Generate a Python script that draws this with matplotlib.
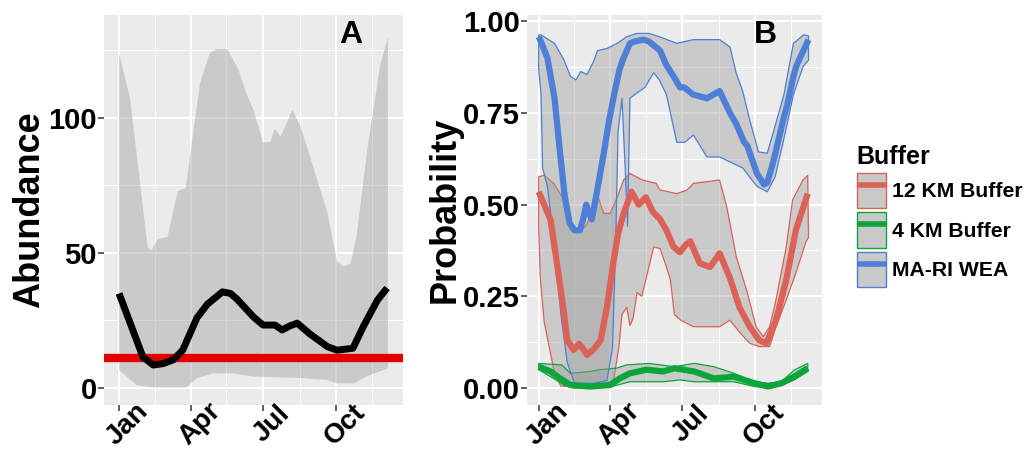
import numpy as np
import matplotlib
matplotlib.use("Agg")
import matplotlib.pyplot as plt
from matplotlib.patches import Patch
from matplotlib.lines import Line2D
from matplotlib.transforms import ScaledTranslation

plt.rcParams['font.family'] = ['Liberation Sans', 'DejaVu Sans']
plt.rcParams['font.weight'] = 'bold'

# x = day of year
month_ticks = [1, 91, 182, 274]
month_labels = ["Jan", "Apr", "Jul", "Oct"]
month_minor = [46, 136, 228, 319]

# ---- Panel A: abundance ----
a_up_day = [1, 15, 27, 37, 42, 49, 62, 75, 85, 93, 103, 115, 124, 137, 151, 161, 170,
            182, 191, 197, 204, 219, 229, 245, 263, 275, 283, 292, 300, 313, 329, 339]
a_up = [124, 107, 77, 52, 51, 55, 56, 73, 74, 92, 113, 124, 125.5, 125.5, 118, 109, 103,
        91, 91, 96, 93, 103, 97, 82, 65, 47, 45, 46, 57, 88, 119, 130]
a_lo_day = [1, 23, 41, 86, 99, 120, 145, 170, 229, 262, 275, 296, 312, 339]
a_lo = [6.7, 1.1, 0.2, 0.2, 3.6, 5.4, 5.4, 4.2, 3.7, 3.0, 1.7, 1.7, 4.2, 7.3]
a_mean_day = [1, 31, 44, 56, 69, 81, 99, 112, 131, 141, 149, 170, 182, 197, 206, 216,
              225, 241, 263, 275, 295, 308, 326, 338]
a_mean = [35, 11.5, 8.5, 9, 10.4, 14, 26, 31, 35.6, 35, 33, 26.3, 23.3, 23.3, 21.5, 23,
          24, 20, 15.3, 14, 14.7, 22.7, 32.6, 37]
a_threshold = 11

# ---- Panel B: probability by buffer ----
buffers = ["12 KM Buffer", "4 KM Buffer", "MA-RI WEA"]
colors = ["#DC6157", "#0BA53A", "#4D7FD6"]

red_day = [1, 8, 16, 24, 33, 37, 45, 52, 56, 62, 70, 79, 87, 95, 101, 108, 118, 127, 136,
           145, 154, 162, 171, 179, 186, 192, 204, 217, 229, 242, 254, 267, 279, 288, 300,
           313, 325, 340]
red_mean = [0.535, 0.50, 0.458, 0.34, 0.204, 0.13, 0.104, 0.12, 0.11, 0.09, 0.105, 0.13,
            0.22, 0.34, 0.42, 0.476, 0.535, 0.50, 0.52, 0.48, 0.46, 0.43, 0.385, 0.37, 0.39,
            0.40, 0.34, 0.33, 0.367, 0.30, 0.22, 0.167, 0.13, 0.122, 0.185, 0.295, 0.43, 0.53]
red_up_day = [1, 8, 20, 33, 41, 45, 53, 60, 70, 76, 83, 91, 100, 108, 116, 132, 149, 154,
              175, 188, 196, 229, 238, 250, 263, 275, 284, 292, 300, 313, 321, 334, 340]
red_up = [0.576, 0.58, 0.558, 0.513, 0.44, 0.43, 0.43, 0.44, 0.485, 0.52, 0.476, 0.476,
          0.52, 0.567, 0.585, 0.567, 0.558, 0.54, 0.53, 0.54, 0.558, 0.567, 0.494, 0.358,
          0.267, 0.167, 0.14, 0.167, 0.24, 0.385, 0.513, 0.567, 0.58]
red_lo_day = [1, 3, 8, 21, 29, 60, 94, 102, 106, 112, 116, 120, 125, 131, 146, 154, 162,
              167, 172, 180, 196, 229, 242, 255, 267, 279, 292, 300, 313, 325, 338, 341]
red_lo = [0.44, 0.30, 0.18, 0.04, 0.005, 0.002, 0.004, 0.11, 0.20, 0.22, 0.17, 0.19, 0.26,
          0.25, 0.385, 0.38, 0.33, 0.295, 0.20, 0.185, 0.167, 0.167, 0.185, 0.15, 0.122,
          0.113, 0.113, 0.167, 0.24, 0.313, 0.40, 0.41]

green_day = [1, 16, 28, 41, 66, 91, 103, 116, 137, 158, 172, 197, 222, 247, 273, 290, 307,
             323, 340]
green_mean = [0.058, 0.045, 0.026, 0.008, 0.004, 0.008, 0.026, 0.04, 0.05, 0.045, 0.054,
              0.045, 0.026, 0.031, 0.013, 0.004, 0.013, 0.031, 0.054]
green_up_day = [1, 30, 41, 66, 78, 99, 112, 140, 172, 197, 222, 247, 273, 290, 307, 323, 340]
green_up = [0.067, 0.063, 0.04, 0.045, 0.05, 0.054, 0.063, 0.067, 0.058, 0.067, 0.058, 0.04,
            0.017, 0.013, 0.017, 0.049, 0.067]
green_lo_day = [1, 16, 33, 45, 91, 116, 158, 179, 197, 222, 247, 273, 290, 307, 323, 340]
green_lo = [0.05, 0.031, 0.008, 0.0, 0.003, 0.017, 0.017, 0.022, 0.017, 0.017, 0.017, 0.004,
            0.0, 0.008, 0.022, 0.045]

blue_day = [1, 4, 12, 21, 28, 34, 40, 46, 53, 57, 61, 64, 68, 74, 83, 89, 96, 103, 108, 116,
            122, 133, 140, 154, 162, 171, 179, 184, 196, 213, 229, 242, 250, 260, 264, 276,
            285, 289, 297, 309, 314, 322, 326, 341]
blue_mean = [0.958, 0.944, 0.90, 0.79, 0.64, 0.52, 0.45, 0.43, 0.43, 0.46, 0.50, 0.48, 0.46,
             0.53, 0.64, 0.72, 0.80, 0.87, 0.90, 0.94, 0.945, 0.95, 0.945, 0.92, 0.88, 0.85,
             0.82, 0.82, 0.80, 0.79, 0.81, 0.75, 0.72, 0.67, 0.66, 0.585, 0.555, 0.56, 0.62,
             0.73, 0.77, 0.85, 0.88, 0.95]
blue_up_day = [1, 4, 21, 33, 41, 48, 54, 62, 71, 75, 87, 100, 112, 125, 140, 153, 175, 196,
               229, 242, 250, 258, 267, 278, 289, 297, 310, 322, 335, 341]
blue_up = [0.963, 0.963, 0.94, 0.894, 0.85, 0.84, 0.863, 0.855, 0.894, 0.92, 0.926, 0.94,
           0.958, 0.967, 0.967, 0.958, 0.94, 0.95, 0.95, 0.93, 0.858, 0.81, 0.73, 0.644,
           0.64, 0.70, 0.80, 0.94, 0.963, 0.96]
blue_lo_day = [1, 4, 6, 12, 21, 29, 37, 46, 71, 87, 94, 98, 101, 106, 110, 113, 116, 122,
               135, 146, 153, 162, 168, 175, 185, 196, 213, 229, 258, 276, 289, 299, 309,
               322, 334, 341]
blue_lo = [0.87, 0.80, 0.60, 0.55, 0.385, 0.20, 0.07, 0.013, 0.013, 0.02, 0.11, 0.385, 0.70,
           0.79, 0.60, 0.44, 0.79, 0.80, 0.82, 0.86, 0.84, 0.80, 0.74, 0.67, 0.67, 0.69,
           0.63, 0.63, 0.60, 0.55, 0.535, 0.576, 0.67, 0.80, 0.876, 0.894]

series = [
    (red_day, red_mean, red_up_day, red_up, red_lo_day, red_lo),
    (green_day, green_mean, green_up_day, green_up, green_lo_day, green_lo),
    (blue_day, blue_mean, blue_up_day, blue_up, blue_lo_day, blue_lo),
]

ribbon_fill = (0.6, 0.6, 0.6, 0.4)
panel_bg = "#EBEBEB"

fig = plt.figure(figsize=(10.32, 4.57), dpi=100)
W, H = 1032, 457
axA = fig.add_axes([104 / W, 52 / H, 299 / W, 390 / H])
axB = fig.add_axes([527 / W, 52 / H, 295 / W, 390 / H])


def ribbon(ax, xu, yu, xl, yl, edge=None):
    xs = np.r_[xu, xl[::-1]]
    ys = np.r_[yu, yl[::-1]]
    ax.fill(xs, ys, facecolor=ribbon_fill, edgecolor=edge if edge else "none",
            lw=0.9, zorder=2)


def style(ax, yticks, yminor, ylabels):
    ax.set_facecolor(panel_bg)
    for s in ax.spines.values():
        s.set_visible(False)
    ax.set_axisbelow(True)
    ax.set_xticks(month_ticks)
    ax.set_xticks(month_minor, minor=True)
    ax.set_yticks(yticks)
    ax.set_yticklabels(ylabels)
    ax.set_yticks(yminor, minor=True)
    ax.grid(which="major", color="white", lw=1.4)
    ax.grid(which="minor", color="white", lw=0.7)
    ax.tick_params(which="major", length=4.3, width=1.1, color="#333333",
                   labelsize=21, pad=1)
    ax.tick_params(which="minor", length=0)
    ax.set_xticklabels(month_labels)
    for lbl in ax.get_xticklabels():
        lbl.set_rotation(45)
        lbl.set_rotation_mode("anchor")
        lbl.set_ha("center")
        lbl.set_va("center")
        lbl.set_fontsize(20)
        lbl.set_transform(lbl.get_transform() +
                          ScaledTranslation(0.09, -0.12, fig.dpi_scale_trans))


# Panel A
ribbon(axA, np.array(a_up_day), np.array(a_up), np.array(a_lo_day), np.array(a_lo))
axA.axhline(a_threshold, color="#E50000", lw=6, zorder=3)
axA.plot(a_mean_day, a_mean, color="black", lw=5, solid_capstyle="butt", zorder=4)
axA.set_xlim(-17.9, 358)
axA.set_ylim(-6.3, 138.1)
style(axA, [0, 50, 100], [25, 75, 125], ["0", "50", "100"])
axA.set_ylabel("Abundance", fontsize=26, fontweight="bold", labelpad=1)
axA.text(0.826, 0.949, "A", transform=axA.transAxes, fontsize=23,
         fontweight="bold", ha="center", va="center")

# Panel B
for (d, m, du, u, dl, l), c in zip(series, colors):
    ribbon(axB, np.array(du), np.array(u), np.array(dl), np.array(l), edge=c)
for (d, m, du, u, dl, l), c in zip(series, colors):
    axB.plot(d, m, color=c, lw=4.5, solid_capstyle="butt", zorder=4)
axB.set_xlim(-13.7, 358)
axB.set_ylim(-0.0464, 1.0172)
style(axB, [0, 0.25, 0.5, 0.75, 1.0], [0.125, 0.375, 0.625, 0.875],
      ["0.00", "0.25", "0.50", "0.75", "1.00"])
axB.set_ylabel("Probability", fontsize=26, fontweight="bold", labelpad=0)
axB.text(0.807, 0.949, "B", transform=axB.transAxes, fontsize=23,
         fontweight="bold", ha="center", va="center")

# Legend
handles = [(Patch(facecolor="#C9C9C9", edgecolor=c, lw=1),
            Line2D([], [], color=c, lw=4, solid_capstyle="butt")) for c in colors]
leg = fig.legend(handles, buffers, title="Buffer", loc="upper left",
                 bbox_to_anchor=(846 / W, 1 - 134 / H), frameon=False,
                 borderpad=0, handlelength=1.4, handleheight=2.2,
                 labelspacing=0.2, handletextpad=0.3,
                 prop={"size": 15.2, "weight": "bold"},
                 title_fontproperties={"size": 18, "weight": "bold"},
                 alignment="left")

fig.savefig("out.png", dpi=100)
